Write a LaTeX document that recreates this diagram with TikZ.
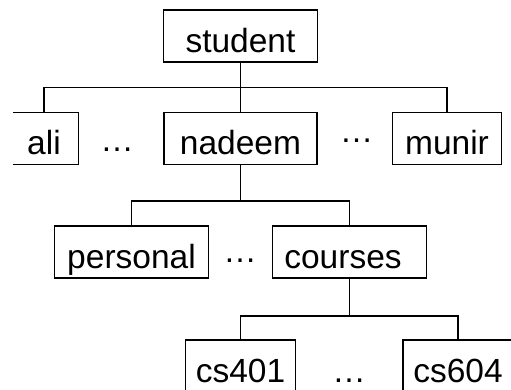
\documentclass[tikz,border=0pt]{standalone}
\usepackage{fontspec}
\setmainfont{Liberation Sans}
\begin{document}
\begin{tikzpicture}[x=1pt,y=-1pt,
	box/.style={draw,line width=1.5pt,inner sep=0pt,minimum height=52pt,text height=33pt,text depth=0pt},
	dots/.style={inner sep=0pt,text height=0pt,text depth=0pt},
	link/.style={line width=1.8pt}]
	\fontsize{33.5}{40}\selectfont
	\useasboundingbox (0,0) rectangle (511,390);
	\clip (13,0) rectangle (511,390);
	\node[box,minimum width=154pt]	(student)	at (240.5,36)	{student};
	\node[box,minimum width=69pt]	(ali)		at (44,138.5)	{ali};
	\node[box,minimum width=153pt]	(nadeem)	at (240.5,138.5)	{nadeem};
	\node[box,minimum width=109pt]	(munir)		at (447,138.5)	{munir};
	\node[box,minimum width=154pt]	(personal)	at (131.5,252)	{personal};
	\node[box,minimum width=154pt]	(courses)	at (349.5,252)	{courses\hspace*{13pt}};
	\node[box,minimum width=110pt]	(cs401)		at (240.5,366)	{cs401};
	\node[box,minimum width=110pt]	(cs604)		at (458,366)	{cs604};
	\node[dots]	(gapA)	at (117,152)	{…};
	\node[dots]	(gapB)	at (356.7,143)	{…};
	\node[dots]	(gapC)	at (240,262)	{…};
	\node[dots]	(gapD)	at (349,382.5)	{…};
	\draw[link] (student.south) -- (nadeem.north);
	\draw[link] (student.south) -- ++(0,24.7) -| (ali.north);
	\draw[link] (student.south) -- ++(0,24.7) -| (munir.north);
	\draw[link] (nadeem.south) -- ++(0,35.5) -| (personal.north);
	\draw[link] (nadeem.south) -- ++(0,35.5) -| (courses.north);
	\draw[link] (courses.south) -- ++(0,37) -| (cs401.north);
	\draw[link] (courses.south) -- ++(0,37) -| (cs604.north);
\end{tikzpicture}
\end{document}
